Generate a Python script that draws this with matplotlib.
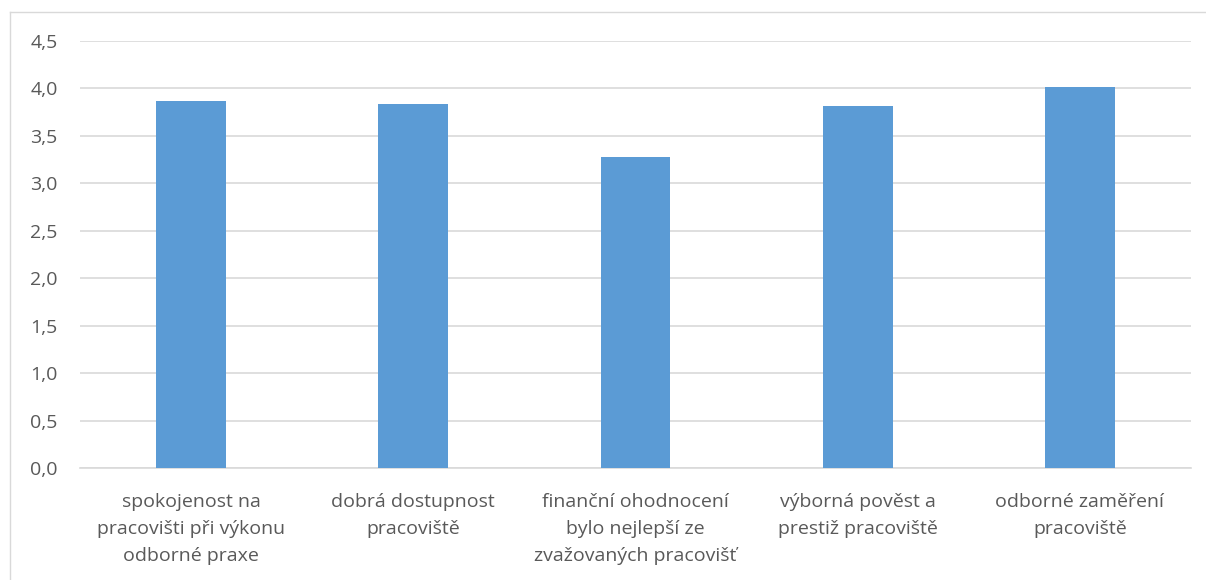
import matplotlib
matplotlib.use("Agg")
import matplotlib.pyplot as plt
from matplotlib.lines import Line2D

categories = [
    "spokojenost na\npracovišti při výkonu\nodborné praxe",
    "dobrá dostupnost\npracoviště",
    "finanční ohodnocení\nbylo nejlepší ze\nzvažovaných pracovišť",
    "výborná pověst a\nprestiž pracoviště",
    "odborné zaměření\npracoviště",
]
values = [3.87, 3.84, 3.28, 3.82, 4.01]
yticks = [0.0, 0.5, 1.0, 1.5, 2.0, 2.5, 3.0, 3.5, 4.0, 4.5]
ytick_labels = ["0,0", "0,5", "1,0", "1,5", "2,0", "2,5", "3,0", "3,5", "4,0", "4,5"]

plt.rcParams['font.family'] = ['Open Sans', 'DejaVu Sans']

W, H = 1206, 580
fig = plt.figure(figsize=(W / 100, H / 100), dpi=100)
ax = fig.add_axes([80 / W, 1 - 468 / H, (1191 - 80) / W, (468 - 41) / H])

x = list(range(len(categories)))
ax.bar(x, values, width=0.315, color="#5B9BD5", zorder=3)
ax.set_xlim(-0.5, len(categories) - 0.5)
ax.set_ylim(0, 4.5)
ax.set_yticks(yticks)
ax.set_yticklabels(ytick_labels)
ax.set_xticks(x)
ax.set_xticklabels(categories, linespacing=1.66)
ax.tick_params(axis="both", length=0, labelsize=14, colors="#595959")
ax.tick_params(axis="y", pad=16)
ax.tick_params(axis="x", pad=18)
ax.grid(axis="y", color="#D9D9D9", linewidth=1.2, zorder=0)
for s in ["top", "right", "left"]:
    ax.spines[s].set_visible(False)
ax.spines["bottom"].set_color("#D9D9D9")
ax.spines["bottom"].set_linewidth(1.2)

# outer chart border (top and left visible)
fig.add_artist(Line2D([10 / W, 1], [1 - 12 / H, 1 - 12 / H], transform=fig.transFigure, color="#D9D9D9", linewidth=1))
fig.add_artist(Line2D([10 / W, 10 / W], [0, 1 - 12 / H], transform=fig.transFigure, color="#D9D9D9", linewidth=1))

fig.savefig("out.png", dpi=100)
